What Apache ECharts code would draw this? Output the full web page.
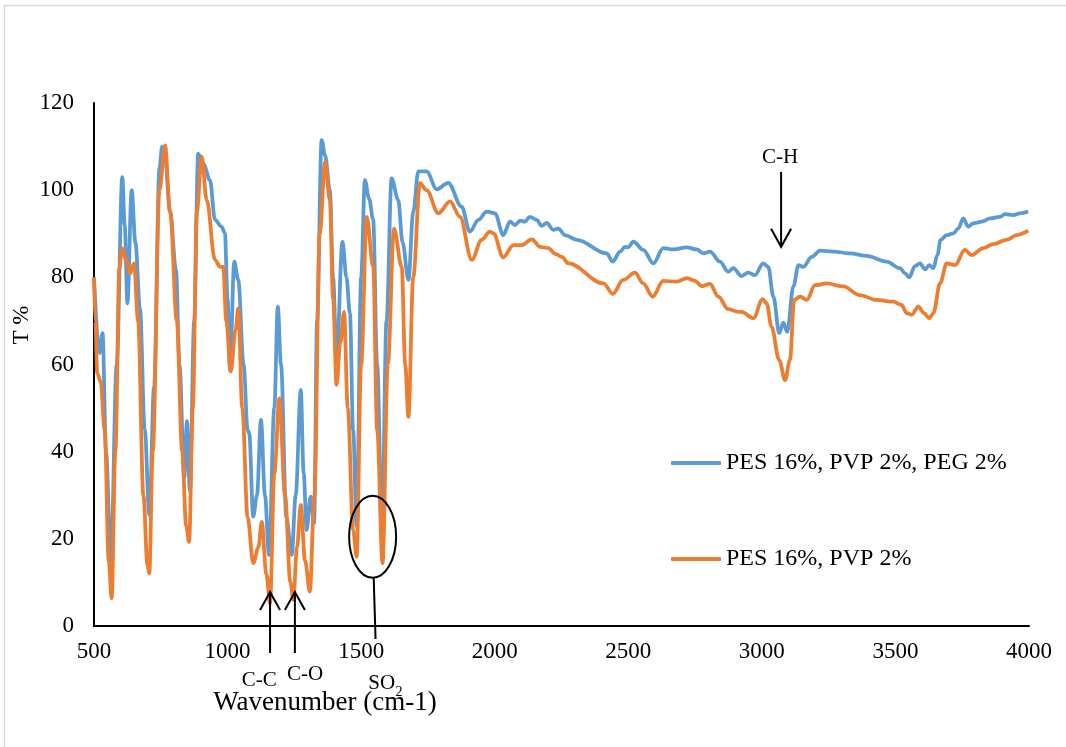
<!DOCTYPE html>
<html>
<head>
<meta charset="utf-8">
<script src="https://cdn.jsdelivr.net/npm/echarts@6/dist/echarts.min.js"></script>
<style>
html,body{margin:0;padding:0;background:#fff;}
#chart{width:1066px;height:747px;}
</style>
</head>
<body>
<div id="chart"></div>
<script>
// Series names
const seriesNames = ['PES 16%, PVP 2%, PEG 2%', 'PES 16%, PVP 2%'];
// X axis ticks (wavenumber)
const xTicks = [500, 1000, 1500, 2000, 2500, 3000, 3500, 4000];
// Y axis ticks (T %)
const yTicks = [0, 20, 40, 60, 80, 100, 120];

// Blue series: [wavenumber, T%]
const pesPvpPeg = [
[500,80],[520,62.6],[532,67.2],[545,40],[563,15],[585,60],[606,103],[615,92],[625,74],[641,100],[655,88],[672,73],[690,45],[707,25.5],[725,55],[745,105],[755,110],[765,108],[785,95],[807,81.7],[820,60],[838,34],[848,47],[859,31],[875,70],[890,108.4],[910,106],[934,102.3],[953,93.2],[978,91.6],[990,90.1],[1000,75],[1009,58.7],[1025,83.6],[1040,79.4],[1060,60],[1075,45],[1081,44.2],[1096,25.1],[1110,30],[1125,47.3],[1140,30],[1155,16.3],[1175,50],[1188,73.3],[1200,60],[1220,25],[1240,16.3],[1255,30],[1274,54.2],[1285,35],[1296,22],[1311,29.7],[1324,23.6],[1335,70],[1352,111.5],[1365,108],[1383,100],[1395,80],[1408,61],[1430,88.2],[1445,80],[1458,71.7],[1470,45],[1483,22.8],[1500,80],[1514,102.3],[1530,98],[1545,93.2],[1560,60],[1578,22],[1595,70],[1614,102.7],[1639,97.7],[1655,88],[1677,79.4],[1695,95],[1714,104.3],[1745,104.3],[1783,100.2],[1826,101.7],[1876,96.2],[1907,90.5],[1939,93.2],[1970,95.1],[2001,94.7],[2032,89.7],[2057,92.8],[2076,92],[2095,93],[2113,92.8],[2132,93.9],[2157,93.2],[2176,91.8],[2195,92.5],[2219,90.9],[2238,91.2],[2263,89.7],[2307,88.6],[2419,85.5],[2442,83.6],[2469,85.9],[2488,87],[2500,86.9],[2519,88.2],[2556,86.3],[2594,83.2],[2631,86.7],[2669,86.4],[2719,86.9],[2756,86.4],[2781,85.5],[2806,85.9],[2843,83.6],[2874,81.3],[2893,82.1],[2924,80.3],[2949,81.1],[2974,80.5],[3005,83.2],[3024,82.4],[3043,75.6],[3065,67.2],[3080,69.6],[3095,67.5],[3118,77.9],[3137,82.8],[3155,82.4],[3187,84.7],[3218,86.1],[3268,85.9],[3330,85.5],[3392,84.9],[3467,83.6],[3517,82.1],[3536,80.9],[3552,80],[3573,82.6],[3592,83.2],[3611,81.8],[3627,82.8],[3642,82.1],[3657,85.1],[3669,88.6],[3692,89.7],[3717,90.1],[3735,91.2],[3754,93.5],[3773,91.6],[3791,92.4],[3823,92.8],[3854,93.5],[3891,93.9],[3910,94.5],[3941,94.3],[3966,94.7],[3997,95.1]
];

// Orange series: [wavenumber, T%]
const pesPvp = [
[500,80],[505,70],[512,58],[525,56],[540,45],[555,15],[566,6.4],[580,40],[595,82],[604,86.7],[620,84],[635,80.9],[650,83.2],[665,70],[685,30],[700,14],[707,12.1],[720,40],[745,100],[766,110.3],[785,95],[810,70],[830,40],[845,23],[856,19.3],[870,50],[885,95],[903,107.7],[922,97.7],[953,84],[972,82.4],[984,82.4],[995,70],[1012,58.4],[1030,68],[1040,72.9],[1055,50],[1075,25],[1096,14.4],[1115,18],[1128,23.9],[1145,12],[1159,5.2],[1175,35],[1194,52.2],[1215,30],[1235,10],[1246,6],[1260,18],[1274,27.8],[1290,15],[1308,7.9],[1325,30],[1345,90],[1365,106.5],[1383,97.7],[1395,75],[1408,55.3],[1422,65],[1436,72.1],[1450,50],[1470,22],[1483,15.9],[1500,60],[1521,93.9],[1545,82.4],[1560,45],[1580,14.4],[1600,60],[1623,91.2],[1652,82.4],[1665,60],[1677,48],[1695,80],[1720,101.6],[1745,100],[1789,94.7],[1833,97.4],[1870,93.9],[1914,84],[1951,88.6],[1982,90.5],[1995,90.1],[2032,84.6],[2070,87.4],[2101,87.4],[2139,88.7],[2170,87],[2201,86.7],[2226,85.4],[2251,84.7],[2276,83.2],[2407,78.6],[2442,76.2],[2481,79.4],[2525,81.1],[2556,78.6],[2591,75.6],[2631,79.2],[2681,79],[2719,79.8],[2750,79.2],[2775,78],[2806,78.5],[2837,75.6],[2874,72.7],[2912,72.1],[2924,72.1],[2968,70.6],[3003,75],[3018,74],[3036,68.7],[3065,61],[3087,56.4],[3105,61],[3121,74.8],[3143,75.6],[3168,74.8],[3199,78.2],[3243,78.6],[3305,77.9],[3367,75.9],[3430,74.8],[3492,74.4],[3523,73.7],[3542,71.8],[3561,71.4],[3586,73.3],[3607,71.8],[3627,70.6],[3642,71.8],[3667,78.6],[3692,83.2],[3723,82.8],[3760,86.3],[3785,85.1],[3829,86.7],[3866,87.6],[3916,88.6],[3954,89.7],[3997,90.7]
];

const FONT = 'Liberation Serif';
const chart = echarts.init(document.getElementById('chart'), null, {renderer: 'canvas'});

const option = {
  animation: false,
  backgroundColor: '#ffffff',
  grid: {left: 94, right: 37, top: 103, bottom: 121, containLabel: false, outerBoundsMode: 'none'},
  xAxis: {
    type: 'value',
    min: xTicks[0], max: xTicks[xTicks.length - 1], interval: 500,
    axisLine: {show: true, lineStyle: {color: '#000', width: 2}},
    axisTick: {show: false},
    splitLine: {show: false},
    axisLabel: {color: '#000', fontFamily: FONT, fontSize: 23, margin: 14, formatter: v => String(v)}
  },
  yAxis: {
    type: 'value',
    min: yTicks[0], max: yTicks[yTicks.length - 1], interval: 20,
    axisLine: {show: true, lineStyle: {color: '#000', width: 2}},
    axisTick: {show: false},
    splitLine: {show: false},
    axisLabel: {color: '#000', fontFamily: FONT, fontSize: 23, margin: 20, formatter: v => String(v)}
  },
  legend: {
    orient: 'vertical',
    left: 671, top: 451, padding: 0,
    itemWidth: 50, itemHeight: 4, itemGap: 72,
    icon: 'roundRect',
    textStyle: {color: '#000', fontFamily: FONT, fontSize: 24},
    data: seriesNames
  },
  series: [
    {
      name: seriesNames[0], type: 'line', data: pesPvpPeg,
      showSymbol: false, symbol: 'none', smooth: 0.35, smoothMonotone: 'x',
      lineStyle: {color: '#5B9BD5', width: 3.75}, itemStyle: {color: '#5B9BD5'}, z: 2
    },
    {
      name: seriesNames[1], type: 'line', data: pesPvp,
      showSymbol: false, symbol: 'none', smooth: 0.35, smoothMonotone: 'x',
      lineStyle: {color: '#ED7D31', width: 3.75}, itemStyle: {color: '#ED7D31'}, z: 3
    }
  ]
};
chart.setOption(option);

// Annotations in data coordinates
const P = (w, t) => chart.convertToPixel({gridIndex: 0}, [w, t]);
const ls = {stroke: '#000', lineWidth: 2};
const g = [];
function line(a, b) { g.push({type: 'line', shape: {x1: a[0], y1: a[1], x2: b[0], y2: b[1]}, style: ls, z: 10}); }
function upArrow(w, tTop, tBot) {
  const top = P(w, tTop), bot = P(w, tBot);
  line(top, bot);
  g.push({type: 'polyline', shape: {points: [[top[0] - 10, top[1] + 18], top, [top[0] + 10, top[1] + 18]]}, style: {stroke: '#000', lineWidth: 2, fill: null}, z: 10});
}
function downArrow(w, tTop, tBot) {
  const top = P(w, tTop), bot = P(w, tBot);
  line(top, bot);
  g.push({type: 'polyline', shape: {points: [[bot[0] - 10, bot[1] - 18], bot, [bot[0] + 10, bot[1] - 18]]}, style: {stroke: '#000', lineWidth: 2, fill: null}, z: 10});
}
function label(text, w, t, size) {
  const p = P(w, t);
  g.push({type: 'text', x: p[0], y: p[1], style: {text: text, fill: '#000', font: size + 'px "' + FONT + '"', align: 'center', verticalAlign: 'middle'}, z: 10});
}
upArrow(1159, 7.8, -6.2);
upArrow(1252, 7.8, -6.2);
downArrow(3072, 104.2, 87);
// Ellipse around SO2 bands
const ec = P(1543, 20.5);
g.push({type: 'ellipse', shape: {cx: ec[0], cy: ec[1], rx: 23.5, ry: 41}, style: {stroke: '#000', lineWidth: 2, fill: null}, z: 10});
line(P(1547, 11.0), P(1554, -3.0));
label('C-C', 1119, -12.6, 21);
label('C-O', 1290, -11.1, 21);
label('SO', 1577, -13.3, 21);
label('2', 1642, -15.3, 14);
label('C-H', 3068, 107.4, 21);
// Axis titles
g.push({type: 'text', x: 325, y: 703, style: {text: 'Wavenumber (cm-1)', fill: '#000', font: '27px "' + FONT + '"', align: 'center', verticalAlign: 'middle'}, z: 9});
g.push({type: 'text', x: 22, y: 325, rotation: Math.PI / 2, style: {text: 'T %', fill: '#000', font: '23px "' + FONT + '"', align: 'center', verticalAlign: 'middle'}, z: 9});
// Outer light border
g.push({type: 'rect', shape: {x: 4.5, y: 5.5, width: 1200, height: 900}, style: {stroke: '#d9d9d9', lineWidth: 1.5, fill: null}, z: 0});
chart.setOption({graphic: g});
</script>
</body>
</html>
